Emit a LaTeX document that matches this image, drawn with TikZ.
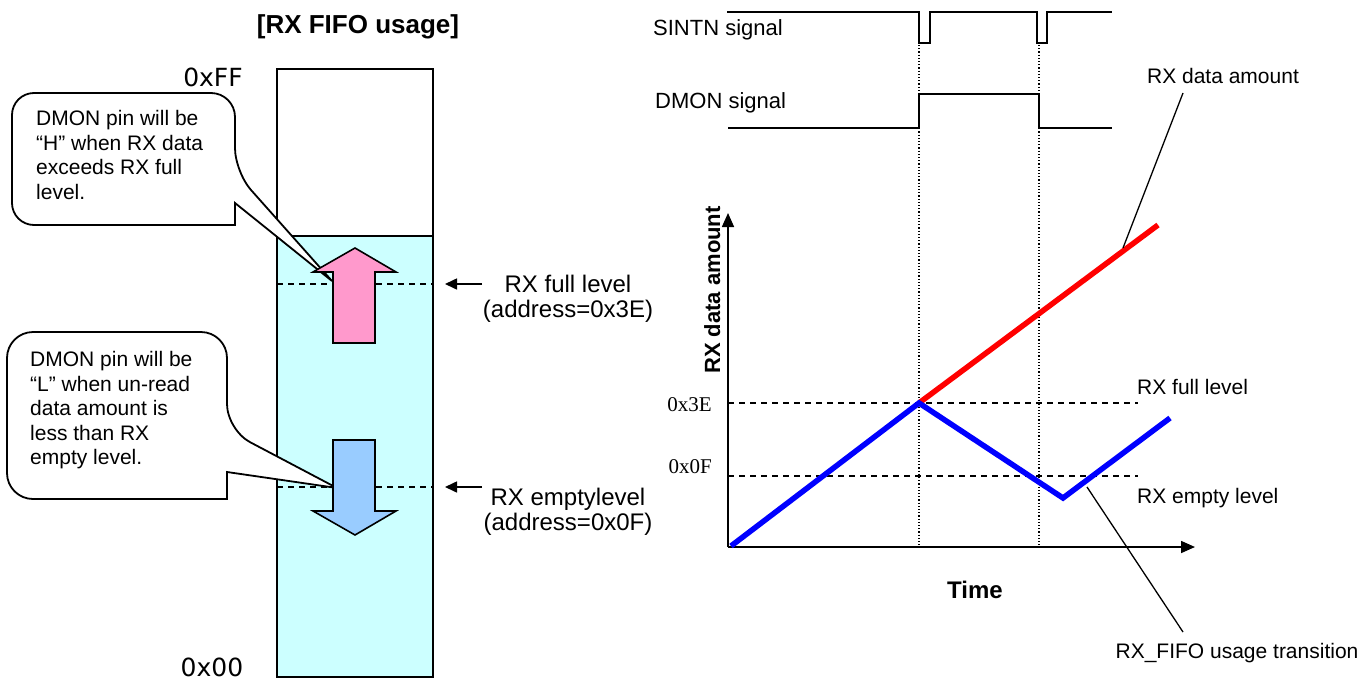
\documentclass[tikz,border=0pt]{standalone}
\usepackage{fontspec}
\setmainfont{Liberation Sans}
\newfontfamily\tnr{Liberation Serif}
\newfontfamily\dvs{DejaVu Sans}
\usetikzlibrary{arrows.meta}
\definecolor{fifocyan}{HTML}{CCFFFF}
\definecolor{uppink}{HTML}{FF99CC}
\definecolor{downblue}{HTML}{99CCFF}
\definecolor{plotblue}{HTML}{0000FF}
\definecolor{plotred}{HTML}{FF0000}
\tikzset{
  txt/.style={font=\fontsize{21}{24.6}\selectfont, inner sep=0pt},
  lvltxt/.style={font=\fontsize{24}{28}\selectfont, inner sep=0pt},
  sigtxt/.style={font=\fontsize{22}{26}\selectfont, inner sep=0pt},
  btxt/.style={font=\fontsize{22}{26}\selectfont\bfseries, inner sep=0pt},
  hexlbl/.style={font=\fontsize{25}{28}\selectfont\dvs, inner sep=0pt},
  serlbl/.style={font=\fontsize{21}{24}\selectfont\tnr, inner sep=0pt},
  boxline/.style={line width=1.8pt},
  callout/.style={draw=black, fill=white, line width=1.8pt},
  bigarrow/.style={draw=black, line width=1.6pt, line join=miter},
  lvl/.style={dashed, dash pattern=on 6pt off 5pt, line width=1.4pt},
  dotv/.style={line width=1.1pt, dash pattern=on 1.2pt off 2pt},
  sig/.style={line width=1.6pt},
  axis/.style={line width=1.6pt, -{Triangle[length=14pt, width=12pt]}},
  ptr/.style={line width=1.6pt, -{Triangle[length=12pt, width=11pt]}},
  lead/.style={line width=1.3pt},
  plot/.style={line width=5.5pt, line cap=butt, line join=miter}
}
\begin{document}
\begin{tikzpicture}[x=1pt,y=-1pt]
\useasboundingbox (0,0) rectangle (1371,683);

% ---------------- FIFO box ----------------
\node[btxt, font=\fontsize{26}{30}\selectfont\bfseries, anchor=base] (title) at (358,33) {[RX FIFO usage]};
\node[hexlbl, anchor=base] (ff) at (213,86) {0xFF};
\node[hexlbl, anchor=base] (zz) at (212,676) {0x00};

\fill[fifocyan] (277,236) rectangle (433,677);
\draw[boxline] (277,236) -- (433,236);
\draw[boxline] (277,69) rectangle (433,677);

\coordinate (fl1) at (277,284); \coordinate (fl2) at (433,284);
\coordinate (el1) at (277,487); \coordinate (el2) at (433,487);
\draw[lvl] (fl1) -- (fl2);
\draw[lvl] (el1) -- (el2);

% callouts
\draw[callout] (120,93) [rounded corners=24] -- (235,93) -- (235,172) [sharp corners] -- (332,281) -- (235,203) -- (235,225) [rounded corners=22] -- (12,225) -- (12,93) -- cycle;
\node[txt, align=left, anchor=north west] (c1) at (36,110) {DMON pin will be\\“H” when RX data\\exceeds RX full\\level.};

\draw[callout] (120,332) [rounded corners=26] -- (227,332) -- (227,430) [sharp corners] -- (337,488) -- (227,472) -- (227,499) [rounded corners=26] -- (7,499) -- (7,332) -- cycle;
\node[txt, align=left, anchor=north west] (c2) at (30,351) {DMON pin will be\\“L” when un-read\\data amount is\\less than RX\\empty level.};

% big arrows
\draw[bigarrow, fill=uppink] (355,248) -- (396,272) -- (375,272) -- (375,343) -- (333,343) -- (333,272) -- (313,272) -- cycle;
\draw[bigarrow, fill=downblue] (333,440) -- (375,440) -- (375,511) -- (396,511) -- (355,535) -- (313,511) -- (333,511) -- cycle;

% level pointers
\coordinate (fp1) at (482,284); \coordinate (fp2) at (445,284);
\coordinate (ep1) at (482,487); \coordinate (ep2) at (445,487);
\draw[ptr] (fp1) -- (fp2);
\draw[ptr] (ep1) -- (ep2);
\node[lvltxt, anchor=base] (fulltxt) at (568,292) {RX full level};
\node[lvltxt, anchor=base] (fulladdr) at (568,317) {(address=0x3E)};
\node[lvltxt, anchor=base] (emptytxt) at (568,505) {RX emptylevel};
\node[lvltxt, anchor=base] (emptyaddr) at (568,530) {(address=0x0F)};

% ---------------- signals ----------------
\node[sigtxt, anchor=base west] (sintn) at (653,35) {SINTN signal};
\node[sigtxt, anchor=base west] (dmon) at (655,108) {DMON signal};
\draw[sig] (727,12) -- (919,12) -- (919,43) -- (930,43) -- (930,12) -- (1037,12) -- (1037,43) -- (1047,43) -- (1047,12) -- (1112,12);
\draw[sig] (728,128) -- (919,128) -- (919,94) -- (1039,94) -- (1039,128) -- (1112,128);

\coordinate (d1t) at (919,45); \coordinate (d1b) at (919,547);
\coordinate (d2t) at (1039,45); \coordinate (d2b) at (1039,547);
\draw[dotv] (d1t) -- (d1b);
\draw[dotv] (d2t) -- (d2b);

% ---------------- chart ----------------
\coordinate (O) at (728,547);
\coordinate (ytop) at (728,213);
\coordinate (xend) at (1195,547);
\draw[axis] (O) -- (ytop);
\draw[axis] (O) -- (xend);

\node[btxt, rotate=90, anchor=base] (ylab) at (720,290) {RX data amount};
\node[btxt, font=\fontsize{24}{28}\selectfont\bfseries, anchor=base] (xlab) at (975,598) {Time};

\coordinate (h1) at (728,403); \coordinate (h2) at (1138,403);
\coordinate (e1) at (728,476); \coordinate (e2) at (1138,476);
\draw[lvl] (h1) -- (h2);
\draw[lvl] (e1) -- (e2);
\node[serlbl, anchor=base east] (l3e) at (712,411) {0x3E};
\node[serlbl, anchor=base east] (l0f) at (712,473) {0x0F};
\node[txt, anchor=base west] (rfull) at (1137,394) {RX full level};
\node[txt, anchor=base west] (rempty) at (1137,503) {RX empty level};

\coordinate (p0) at (731,546);
\coordinate (p1) at (919,403);
\coordinate (p2) at (1063,498);
\coordinate (p3) at (1170,418);
\coordinate (r1) at (1158,225);
\draw[plot, plotred] (p1) -- (r1);
\draw[plot, plotblue] (p0) -- (p1) -- (p2) -- (p3);

\node[txt, anchor=base] (rxamt) at (1223,83) {RX data amount};
\coordinate (rxamtpt) at (1123,248);
\draw[lead] (1183,93) -- (rxamtpt);

\node[txt, anchor=base] (trans) at (1237,658) {RX\_FIFO usage transition};
\coordinate (transpt) at (1087,487);
\draw[lead] (1183,632) -- (transpt);
\end{tikzpicture}
\end{document}
